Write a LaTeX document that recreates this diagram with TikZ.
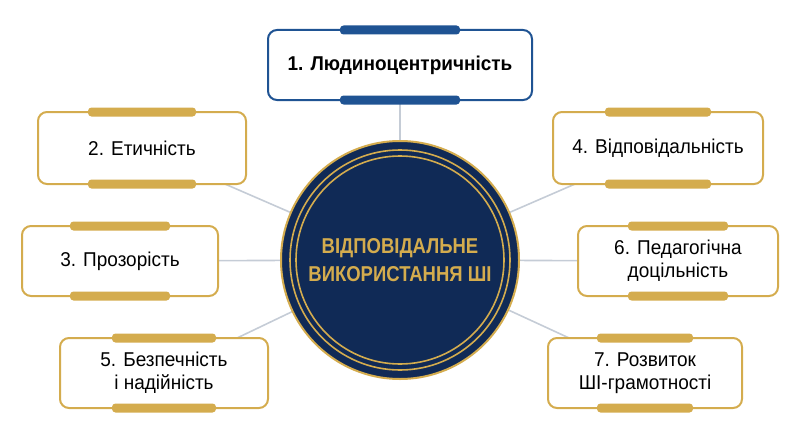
\documentclass[tikz,border=0pt]{standalone}
\usepackage{fontspec}
\setmainfont{Liberation Sans}
\begin{document}
\begin{tikzpicture}[x=1pt,y=-1pt,
  gold/.style={draw=goldc,line width=2pt,fill=white,rounded corners=9pt},
  blu/.style={draw=bluec,line width=2pt,fill=white,rounded corners=9pt},
  lab/.style={font=\fontsize{20}{23}\selectfont,align=center,text=black,xscale=0.95},
  link/.style={draw=linkc,line width=1.6pt}]
\definecolor{goldc}{HTML}{D4AC4E}
\definecolor{bluec}{HTML}{1F5393}
\definecolor{navy}{HTML}{102A56}
\definecolor{linkc}{HTML}{C5CCD6}
\useasboundingbox (0,0) rectangle (800,436);
\coordinate (c) at (400,260);
\newcommand{\mybox}[7]{% name, style, x1,y1,x2,y2, text
  \draw[#2] (#3,#4) rectangle (#5,#6);
  \node[lab] (#1) at ({(#3+#5)/2},{(#4+#6)/2}) {#7};
}
\foreach \p in {(400,65),(142,148),(658,148),(120,261),(678,261),(164,373),(645,373)}
  \draw[link] (c) -- \p;
\mybox{b1}{blu}{268}{30}{532}{100}{\textbf{1. Людиноцентричність}}
\mybox{b2}{gold}{38}{112}{246}{184}{2. Етичність}
\mybox{b4}{gold}{553}{112}{763}{184}{4. Відповідальність}
\mybox{b3}{gold}{22}{226}{218}{296}{3. Прозорість}
\mybox{b6}{gold}{578}{226}{778}{296}{6. Педагогічна\\доцільність}
\mybox{b5}{gold}{60}{338}{268}{408}{5. Безпечність\\і надійність}
\mybox{b7}{gold}{548}{338}{742}{408}{7. Розвиток\\ШІ-грамотності}
% tabs
\foreach \a/\b/\y/\c in {340/460/30/bluec,340/460/100/bluec,
  88/196/112/goldc,88/196/184/goldc,605/711/112/goldc,605/711/184/goldc,
  70/170/226/goldc,70/170/296/goldc,628/728/226/goldc,628/728/296/goldc,
  112/216/338/goldc,112/216/408/goldc,597/693/338/goldc,597/693/408/goldc}
  \fill[\c,rounded corners=3.5pt] (\a,\y-4.5) rectangle (\b,\y+4.5);
\fill[navy] (c) circle (119);
\draw[goldc,line width=2pt] (c) circle (119);
\draw[goldc,line width=1.6pt] (c) circle (110);
\draw[goldc,line width=1.6pt] (c) circle (104);
\node[align=center,text=goldc,font=\bfseries\fontsize{21.5}{28}\selectfont,xscale=0.86] (ct) at (c) {ВІДПОВІДАЛЬНЕ\\ВИКОРИСТАННЯ ШІ};
\end{tikzpicture}
\end{document}
